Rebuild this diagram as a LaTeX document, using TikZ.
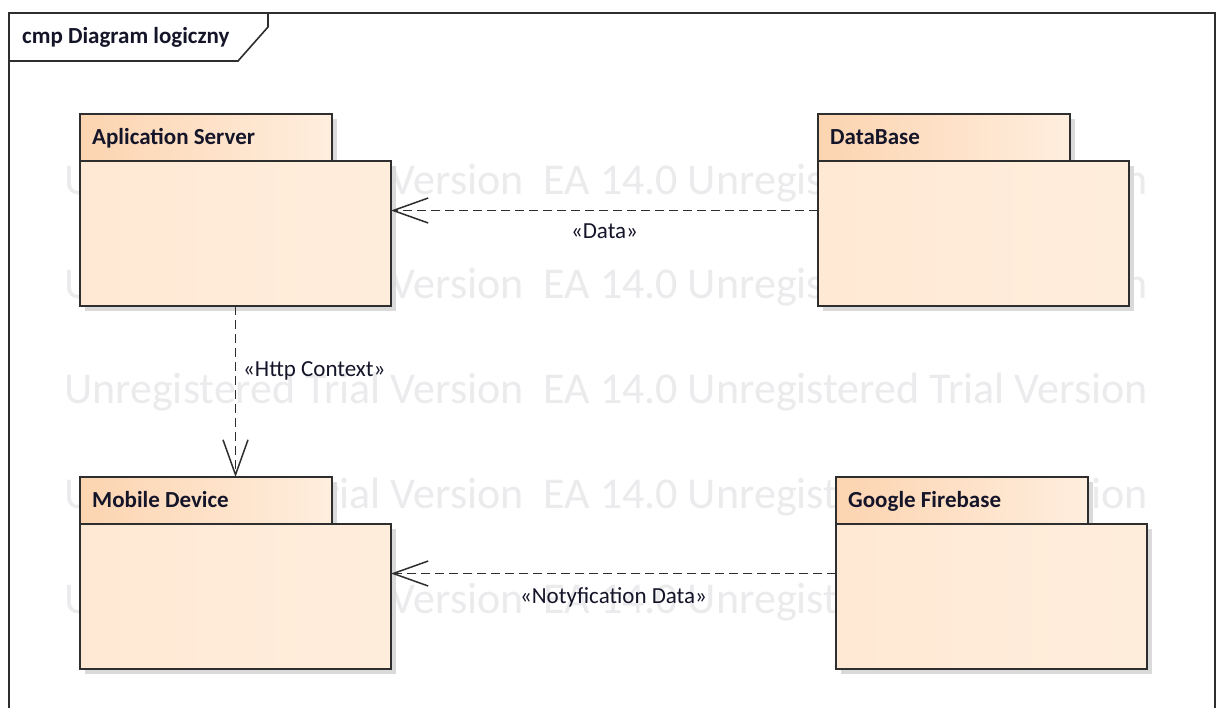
\documentclass[tikz,border=0pt]{standalone}
\usepackage{fontspec}
\setmainfont{Carlito}
\usetikzlibrary{arrows.meta,shadows}
\definecolor{tabL}{HTML}{FCD4B0}
\definecolor{tabR}{HTML}{FFEEDE}
\definecolor{bodyL}{HTML}{FFE9D4}
\definecolor{bodyR}{HTML}{FFEDDC}
\definecolor{lineC}{HTML}{2E2E2E}
\definecolor{wmC}{HTML}{EBEBED}
\definecolor{shadowC}{HTML}{DADADA}
\definecolor{txtC}{HTML}{15152A}
\tikzset{
  frameline/.style={draw=lineC, line width=1.6pt},
  pkgtab/.style={draw=lineC, line width=1.5pt, left color=tabL, right color=tabR,
    minimum width=252pt, minimum height=47pt, inner sep=0pt, outer sep=0pt, anchor=north west,
    drop shadow={shadow xshift=5pt, shadow yshift=-5pt, fill=shadowC, opacity=1}},
  pkgbody/.style={draw=lineC, line width=1.5pt, left color=bodyL, right color=bodyR,
    minimum width=311pt, minimum height=145pt, inner sep=0pt, outer sep=0pt, anchor=north west,
    drop shadow={shadow xshift=5pt, shadow yshift=-5pt, fill=shadowC, opacity=1}},
  pkgname/.style={anchor=base west, inner sep=0pt, text=txtC, font=\bfseries\fontsize{23}{26}\selectfont},
  deplabel/.style={inner sep=0pt, text=txtC, font=\fontsize{23}{26}\selectfont},
  wmtext/.style={anchor=base west, inner sep=0pt, text=wmC, font=\fontsize{44}{50}\selectfont},
  dep/.style={draw=lineC, line width=1.7pt, dash pattern=on 9pt off 5pt,
    -{Straight Barb[length=35pt,width=25pt,line width=1.5pt]}}
}
\begin{document}
\begin{tikzpicture}[x=1pt,y=-1pt]
\useasboundingbox (0,0) rectangle (1223,707);
\fill[white] (0,0) rectangle (1223,707);
% watermark
\foreach \yy [count=\i] in {194,298,403,508,613}{
  \node[wmtext] (wm\i) at (64,\yy) {Unregistered Trial Version\ \ EA 14.0 Unregistered Trial Version};
}
% frame
\draw[frameline] (9,712) -- (9,13) -- (1215,13) -- (1215,712);
\draw[frameline] (9,61) -- (238,61) -- (268,27) -- (268,13);
\node[pkgname] (title) at (22,43) {cmp Diagram logiczny};
% packages
\node[pkgtab] (astab) at (80,114) {};
\node[pkgbody] (as) at (80,161) {};
\node[pkgname] (asname) at (92,144) {Aplication Server};

\node[pkgtab] (dbtab) at (818,114) {};
\node[pkgbody] (db) at (818,161) {};
\node[pkgname] (dbname) at (830,144) {DataBase};

\node[pkgtab] (mdtab) at (80,477) {};
\node[pkgbody] (md) at (80,524) {};
\node[pkgname] (mdname) at (92,507) {Mobile Device};

\node[pkgtab] (fbtab) at (836,477) {};
\node[pkgbody] (fb) at (836,524) {};
\node[pkgname] (fbname) at (848,507) {Google Firebase};
% dependencies
\draw[dep] ([yshift=23pt]db.west) -- ([yshift=23pt]as.east)
  node[deplabel, midway, anchor=base, yshift=-28pt] (l1) {«Data»};
\draw[dep] (as.south) -- (as.south |- mdtab.north);
\node[deplabel, anchor=base west] (l2) at ([xshift=7.5pt,yshift=-70pt]as.south) {«Http Context»};
\draw[dep] ([yshift=23pt]fb.west) -- ([yshift=23pt]md.east)
  node[deplabel, midway, anchor=base, yshift=-30pt] (l3) {«Notyfication Data»};
\end{tikzpicture}
\end{document}
